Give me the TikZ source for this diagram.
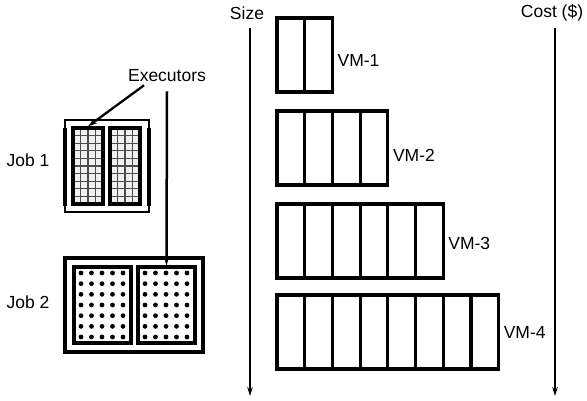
\documentclass[tikz,border=0pt]{standalone}
\usepackage{fontspec}
\setmainfont{Liberation Sans}
\usetikzlibrary{arrows.meta,calc}
\begin{document}
\begin{tikzpicture}[x=1pt,y=-1pt,>={Stealth[length=9pt,width=5.5pt]},
    lbl/.style={font=\fontsize{17.5}{20}\selectfont,inner sep=2pt},
    cell/.style={line width=3.2pt},
    exec/.style={draw,line width=3.2pt,minimum width=#1,minimum height=76pt,inner sep=0pt}]
    \useasboundingbox (0,0) rectangle (587,401);
    % ---- axes ----
    \node[lbl] (size) at (247,13) {Size};
    \node[lbl] (cost) at (552,13) {Cost (\$)};
    \coordinate (sizeend) at (250,396);
    \coordinate (costend) at (555,396);
    \draw[->,line width=2.6pt] (250,28) -- (sizeend);
    \draw[->,line width=2.6pt] (555,28) -- (costend);
    % ---- VM types ----
    \foreach \k/\top/\ly in {1/18/60,2/111/155,3/204/243,4/295/332} {
      \pgfmathtruncatemacro{\n}{2*\k}
      \foreach \c in {1,...,\n}
        \draw[cell] ({277+(\c-1)*27.7},\top) rectangle ({277+\c*27.7},\top+74);
      \node[lbl,anchor=west] (vm\k) at ({277+\n*27.7+3},\ly) {VM-\k};
    }
    % ---- job 1 : executors with grid ----
    \node[lbl] (job1) at (28,160) {Job 1};
    \draw[line width=2.3pt] (65,120) rectangle (149,212);
    \draw[line width=4.8pt] (65,128) -- (65,206);
    \draw[line width=4.8pt] (149,128) -- (149,206);
    \foreach \x/\name in {73/e11,110/e12} {
      \fill[gray!12] (\x,128) rectangle (\x+30,204);
      \foreach \i in {1,2,3}
        \draw[gray!60!black,line width=1.1pt] (\x+\i*7.5,128) -- (\x+\i*7.5,204);
      \foreach \j in {1,...,9}
        \draw[gray!60!black,line width=1.1pt] (\x,128+\j*7.6) -- (\x+30,128+\j*7.6);
      \node[exec=30pt] (\name) at (\x+15,166) {};
    }
    % ---- job 2 : executors with dots ----
    \node[lbl] (job2) at (28,302) {Job 2};
    \draw[line width=3.2pt] (65,258) rectangle (203,352);
    \foreach \x/\name in {74/e21,138/e22} {
      \node[exec=57pt] (\name) at (\x+28.5,305) {};
      \foreach \i in {0,...,4}
        \foreach \j in {0,...,6}
          \fill (\x+7+\i*10.5,273+\j*10.67) circle (2.4pt);
    }
    % ---- executors label ----
    \node[lbl] (exlbl) at (167,76) {Executors};
    \draw[->,line width=2.3pt] ($(exlbl.south)+(-23,1)$) -- (e11.north);
    \draw[->,line width=2.5pt] ($(exlbl.south)+(0,7)$) -- (e22.north);
\end{tikzpicture}
\end{document}
